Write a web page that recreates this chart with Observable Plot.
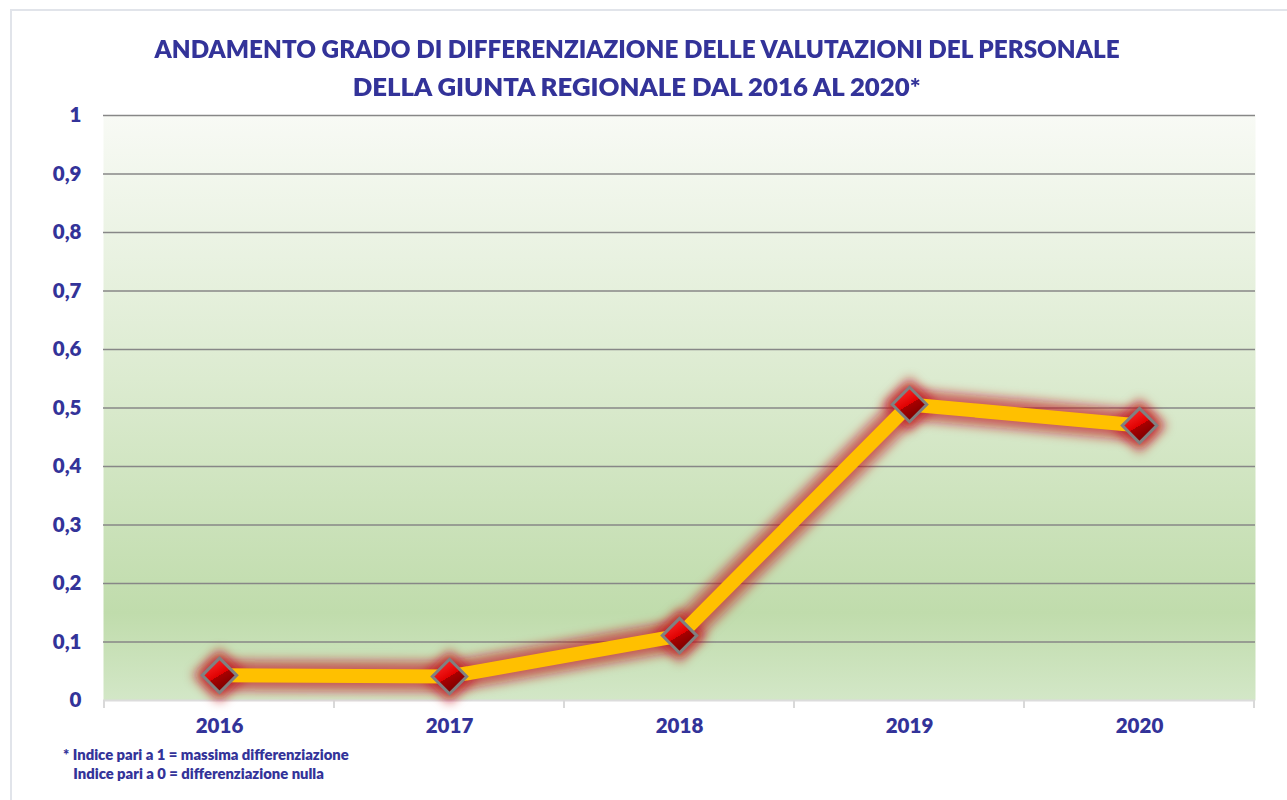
<!DOCTYPE html>
<html>
<head>
<meta charset="utf-8">
<script src="https://cdn.jsdelivr.net/npm/d3@7"></script>
<script src="https://cdn.jsdelivr.net/npm/@observablehq/plot@0.6"></script>
<style>
  html, body { margin: 0; padding: 0; background: #fff; width: 1287px; height: 800px; overflow: hidden; }
  body { position: relative; font-family: Lato, "Open Sans", sans-serif; color: #333399; }
  #border { position: absolute; left: 10px; top: 9px; width: 1300px; height: 820px; border-left: 2px solid #e1e4ea; border-top: 2px solid #e1e4ea; box-sizing: border-box; }
  #title { position: absolute; left: 0; top: 29px; width: 1274px; text-align: center; font-weight: 800; font-size: 25px; line-height: 38px; z-index: 2; }
  #title span { display: inline-block; white-space: nowrap; transform-origin: center; }
  #chart { position: absolute; left: 0; top: 95px; }
  #note { position: absolute; left: 63px; top: 745px; font-weight: 800; font-size: 14.8px; line-height: 19px; white-space: pre; }
</style>
</head>
<body>
<div id="border"></div>
<div id="chart"></div>
<div id="title"><span>ANDAMENTO GRADO DI DIFFERENZIAZIONE DELLE VALUTAZIONI DEL PERSONALE</span><br><span>DELLA GIUNTA REGIONALE DAL 2016 AL 2020*</span></div>
<div id="note">* Indice pari a 1 = massima differenziazione
   Indice pari a 0 = differenziazione nulla</div>
<script>
const years = ["2016", "2017", "2018", "2019", "2020"];
const values = [0.043, 0.041, 0.111, 0.506, 0.470];
const yTicks = [0, 0.1, 0.2, 0.3, 0.4, 0.5, 0.6, 0.7, 0.8, 0.9, 1];

const data = years.map((y, i) => ({year: y, value: values[i]}));
const fmt = d => d3.format("~g")(d).replace(".", ",");
const textColor = "#333399";

const boundaryTicks = (index, {x}, values, dims) => {
  const g = document.createElementNS("http://www.w3.org/2000/svg", "g");
  const xs = x.domain().map(d => x(d)).concat([x(x.domain().at(-1)) + x.bandwidth()]);
  const y0 = dims.height - dims.marginBottom;
  for (const px of xs) {
    const l = document.createElementNS("http://www.w3.org/2000/svg", "line");
    l.setAttribute("x1", px); l.setAttribute("x2", px);
    l.setAttribute("y1", y0); l.setAttribute("y2", y0 + 8);
    l.setAttribute("stroke", "#d9d9d9"); l.setAttribute("stroke-width", 2);
    g.appendChild(l);
  }
  return g;
};

const plot = Plot.plot({
  width: 1287,
  height: 650,
  marginLeft: 103,
  marginRight: 32,
  marginTop: 20,
  marginBottom: 45,
  style: {background: "transparent", fontFamily: "Lato, 'Open Sans', sans-serif"},
  x: {type: "band", domain: years, padding: 0, label: null},
  y: {domain: [0, 1], label: null},
  marks: [
    Plot.frame({fill: "url(#bgGrad)", stroke: "none"}),
    Plot.ruleY(yTicks.filter(d => d > 0), {stroke: "#878787", strokeWidth: 1.6}),
    Plot.ruleY([0], {stroke: "#dcdcdc", strokeWidth: 2}),
    boundaryTicks,
    Plot.axisY({ticks: yTicks, tickSize: 0, tickPadding: 22, tickFormat: fmt, fontSize: 20.5, fontWeight: 800, fill: textColor}),
    Plot.axisX({tickSize: 0, tickPadding: 18, fontSize: 20.5, fontWeight: 800, fill: textColor}),
    // glow
    Plot.line(data, {x: "year", y: "value", stroke: "#c0141b", strokeWidth: 30, strokeOpacity: 0.65}),
    Plot.dot(data, {x: "year", y: "value", symbol: "diamond2", r: 24, fill: "#c0141b", fillOpacity: 0.75}),
    // main
    Plot.line(data, {x: "year", y: "value", stroke: "#ffc000", strokeWidth: 14}),
    Plot.dot(data, {x: "year", y: "value", symbol: "diamond2", r: 15.5, fill: "url(#redGrad)", stroke: "#808080", strokeWidth: 3})
  ]
});

document.getElementById("chart").appendChild(plot);

const svg = d3.select(plot);
const defs = svg.insert("defs", ":first-child");
const bg = defs.append("linearGradient").attr("id", "bgGrad").attr("x1", 0).attr("y1", 0).attr("x2", 0).attr("y2", 1);
bg.append("stop").attr("offset", "0").attr("stop-color", "#f8faf5");
bg.append("stop").attr("offset", "0.45").attr("stop-color", "#dcebd0");
bg.append("stop").attr("offset", "0.85").attr("stop-color", "#c0dcac");
bg.append("stop").attr("offset", "1").attr("stop-color", "#d3e7c7");
const rg = defs.append("linearGradient").attr("id", "redGrad").attr("x1", 0.2).attr("y1", 0).attr("x2", 0.8).attr("y2", 1);
rg.append("stop").attr("offset", "0").attr("stop-color", "#ff3030");
rg.append("stop").attr("offset", "0.5").attr("stop-color", "#e00000");
rg.append("stop").attr("offset", "0.5").attr("stop-color", "#a80000");
rg.append("stop").attr("offset", "1").attr("stop-color", "#6a0000");
const f = defs.append("filter").attr("id", "glow").attr("filterUnits", "userSpaceOnUse")
  .attr("x", 0).attr("y", 0).attr("width", 1287).attr("height", 650);
f.append("feGaussianBlur").attr("stdDeviation", 5.5);

const lines = plot.querySelectorAll('g[aria-label="line"]');
const dots = plot.querySelectorAll('g[aria-label="dot"]');
if (lines[0]) lines[0].setAttribute("filter", "url(#glow)");
if (dots[0]) dots[0].setAttribute("filter", "url(#glow)");

// fit title lines to reference widths
const spans = document.querySelectorAll("#title span");
const targets = [965, 568];
spans.forEach((s, i) => {
  const w = s.getBoundingClientRect().width;
  if (w > 0) s.style.transform = `scaleX(${targets[i] / w})`;
});
</script>
</body>
</html>
